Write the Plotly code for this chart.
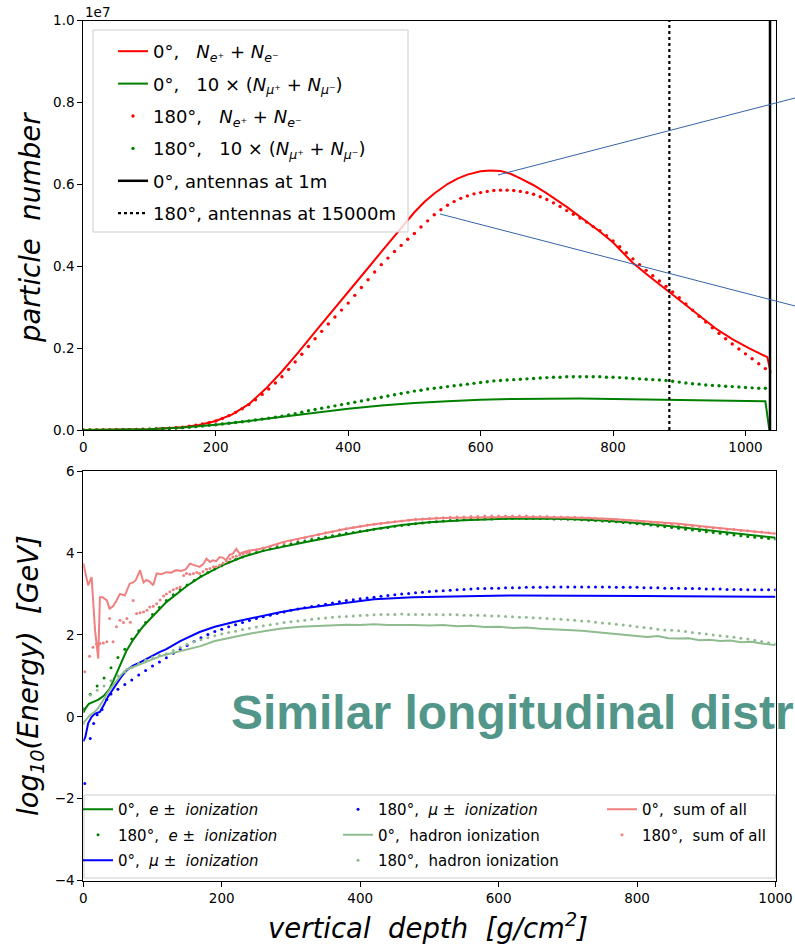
import plotly.graph_objects as go

# ================= TOP PANEL : particle numbers (values in units of 1e7) =================
DEPTH_TOP_DOTS = list(range(0, 1031, 10))

NE_0_DEPTH = [0, 50, 100, 150, 175, 200, 225, 250, 275, 300, 325, 350, 375, 400, 425,
              450, 475, 500, 515, 530, 550, 565, 580, 600, 615, 630, 645, 660, 680, 700,
              730, 760, 780, 800, 830, 855, 880, 905, 930, 955, 980, 1005, 1033, 1038]
NE_0 = [0, 0.0005, 0.002, 0.007, 0.012, 0.022, 0.038, 0.063, 0.1, 0.143, 0.19, 0.24, 0.288, 0.337, 0.386,
        0.435, 0.484, 0.532, 0.557, 0.578, 0.601, 0.614, 0.624, 0.632, 0.634, 0.633, 0.626, 0.615, 0.598, 0.578,
        0.545, 0.51, 0.485, 0.458, 0.408, 0.375, 0.343, 0.31, 0.278, 0.248, 0.222, 0.2, 0.178, 0.14]

NE_180 = [0, 0, 0, 0, 0, 0.0005, 0.0007, 0.001, 0.0013, 0.0017,
          0.002, 0.0027, 0.0035, 0.0045, 0.0055, 0.007, 0.009, 0.0115, 0.0145, 0.018,
          0.022, 0.028, 0.035, 0.043, 0.052, 0.062, 0.074, 0.087, 0.1, 0.115,
          0.13, 0.148, 0.166, 0.185, 0.204, 0.223, 0.241, 0.259, 0.276, 0.293,
          0.31, 0.329, 0.348, 0.367, 0.386, 0.404, 0.42, 0.436, 0.451, 0.466,
          0.48, 0.496, 0.511, 0.526, 0.538, 0.549, 0.558, 0.566, 0.572, 0.577,
          0.58, 0.583, 0.585, 0.586, 0.586, 0.585, 0.583, 0.58, 0.576, 0.57,
          0.563, 0.555, 0.546, 0.536, 0.527, 0.518, 0.508, 0.497, 0.487, 0.475,
          0.462, 0.448, 0.433, 0.418, 0.404, 0.39, 0.377, 0.364, 0.351, 0.337,
          0.323, 0.308, 0.293, 0.278, 0.264, 0.25, 0.236, 0.223, 0.21, 0.198,
          0.186, 0.174, 0.162, 0.15]

NMU_0_DEPTH = [0, 50, 100, 150, 200, 250, 300, 350, 400, 450, 500, 550, 600, 650, 700,
               750, 800, 850, 900, 950, 1000, 1030, 1036]
NMU_0 = [0, 0.0005, 0.002, 0.006, 0.013, 0.022, 0.032, 0.042, 0.052, 0.06, 0.066, 0.07, 0.074, 0.076, 0.077,
         0.077, 0.076, 0.075, 0.073, 0.072, 0.071, 0.07, 0.0]

NMU_180 = [0, 0, 0, 0, 0.0002, 0.0003, 0.0005, 0.0007, 0.001, 0.0015,
           0.002, 0.0025, 0.003, 0.0037, 0.0045, 0.0055, 0.0068, 0.0082, 0.0097, 0.0113,
           0.013, 0.0147, 0.0164, 0.0182, 0.02, 0.022, 0.0243, 0.0266, 0.029, 0.0315,
           0.034, 0.037, 0.04, 0.0435, 0.047, 0.05, 0.053, 0.056, 0.059, 0.062,
           0.065, 0.068, 0.071, 0.074, 0.077, 0.08, 0.083, 0.086, 0.089, 0.092,
           0.095, 0.097, 0.1, 0.102, 0.104, 0.106, 0.108, 0.11, 0.112, 0.114,
           0.116, 0.118, 0.12, 0.121, 0.122, 0.123, 0.124, 0.125, 0.126, 0.127,
           0.128, 0.129, 0.129, 0.13, 0.13, 0.13, 0.13, 0.13, 0.13, 0.129,
           0.129, 0.128, 0.127, 0.126, 0.125, 0.124, 0.123, 0.122, 0.121, 0.119,
           0.117, 0.115, 0.113, 0.112, 0.11, 0.109, 0.108, 0.107, 0.106, 0.105,
           0.104, 0.103, 0.102, 0.102]

ANTENNA_0_DEPTH = 1037      # 0 deg, antennas at 1 m
ANTENNA_180_DEPTH = 885     # 180 deg, antennas at 15000 m
ANTENNA_Y = [0, 1.0]

TOP_YTICKS = [0, 0.2, 0.4, 0.6, 0.8, 1.0]
TOP_YTICKTEXT = ["0.0", "0.2", "0.4", "0.6", "0.8", "1.0"]
XTICKS = [0, 200, 400, 600, 800, 1000]

# ================= BOTTOM PANEL : log10(Energy) =================
DEPTH_BOT_DOTS = list(range(0, 1001, 10))

E_ION_0_DEPTH = [0, 3, 8, 15, 22, 30, 38, 46, 54, 62, 72, 86, 100, 120, 150, 170, 200, 230,
                 260, 290, 320, 350, 380, 420, 460, 500, 550, 600, 650, 700, 750, 800, 850,
                 900, 950, 1000]
E_ION_0 = [0.1, 0.2, 0.32, 0.38, 0.42, 0.52, 0.68, 0.98, 1.3, 1.6, 1.88, 2.2, 2.45, 2.8, 3.2, 3.42, 3.69, 3.9,
           4.05, 4.16, 4.26, 4.36, 4.46, 4.58, 4.68, 4.75, 4.8, 4.83, 4.84, 4.83, 4.79, 4.73, 4.65,
           4.56, 4.46, 4.37]

E_ION_180 = [0.2, 0.55, 0.75, 0.95, 1.2, 1.45, 1.65, 1.9, 2.1, 2.3,
             2.5, 2.67, 2.84, 2.98, 3.1, 3.22, 3.33, 3.43, 3.52, 3.61,
             3.69, 3.77, 3.84, 3.9, 3.96, 4.01, 4.06, 4.1, 4.14, 4.18,
             4.22, 4.26, 4.29, 4.33, 4.36, 4.39, 4.42, 4.45, 4.48, 4.5,
             4.53, 4.55, 4.58, 4.6, 4.62, 4.65, 4.67, 4.69, 4.71, 4.73,
             4.75, 4.76, 4.78, 4.79, 4.8, 4.81, 4.82, 4.82, 4.83, 4.83,
             4.84, 4.84, 4.84, 4.85, 4.84, 4.84, 4.84, 4.84, 4.83, 4.83,
             4.82, 4.82, 4.81, 4.8, 4.79, 4.78, 4.77, 4.76, 4.74, 4.73,
             4.71, 4.7, 4.68, 4.66, 4.64, 4.62, 4.6, 4.58, 4.56, 4.54,
             4.52, 4.5, 4.48, 4.46, 4.44, 4.42, 4.4, 4.38, 4.37, 4.35,
             4.34]

MU_ION_0_DEPTH = [0, 3, 7, 12, 17, 24, 30, 36, 42, 48, 55, 63, 72, 82, 95, 110, 120, 140, 168, 190,
                  216, 240, 265, 284, 313, 350, 380, 420, 476, 520, 572, 620, 669, 720, 765, 810,
                  861, 900, 950, 1000]
MU_ION_0 = [-0.6, -0.49, -0.16, 0.0, 0.08, 0.12, 0.3, 0.5, 0.65, 0.81, 0.98, 1.14, 1.25, 1.33, 1.45, 1.58, 1.65, 1.85, 2.07, 2.2,
            2.31, 2.4, 2.48, 2.55, 2.64, 2.72, 2.8, 2.87, 2.92, 2.94, 2.95, 2.96, 2.96, 2.96, 2.96, 2.95,
            2.94, 2.94, 2.93, 2.93]

MU_ION_180_DEPTH = [2, 10, 15, 20, 27, 34, 40] + list(range(50, 1001, 10))
MU_ION_180 = [-1.63, -0.53, -0.16, 0.05, 0.18, 0.42, 0.56,
              0.67, 0.79, 0.9, 1.02, 1.13,
              1.24, 1.34, 1.44, 1.55, 1.65, 1.74, 1.84, 1.93, 2.01, 2.08,
              2.14, 2.2, 2.25, 2.3, 2.35, 2.4, 2.44, 2.48, 2.52, 2.56,
              2.6, 2.63, 2.66, 2.69, 2.72, 2.75, 2.78, 2.81, 2.84, 2.86,
              2.88, 2.9, 2.92, 2.94, 2.96, 2.98, 3.0, 3.01, 3.03, 3.04,
              3.06, 3.07, 3.08, 3.09, 3.1, 3.11, 3.12, 3.13, 3.13, 3.14,
              3.14, 3.15, 3.15, 3.15, 3.16, 3.16, 3.16, 3.16, 3.17, 3.17,
              3.17, 3.17, 3.17, 3.17, 3.17, 3.17, 3.17, 3.16, 3.16, 3.16,
              3.16, 3.15, 3.15, 3.15, 3.14, 3.14, 3.14, 3.13, 3.13, 3.13,
              3.12, 3.12, 3.12, 3.11, 3.11, 3.11, 3.1, 3.1, 3.1, 3.1,
              3.1]

HAD_ION_0_DEPTH = [0, 5, 10, 15, 20, 25, 30, 35, 40, 48, 55, 62, 72, 85, 96, 110, 120, 140, 168, 190,
                   216, 240, 265, 284, 313, 340, 360, 380, 400, 420, 440, 460, 476, 500, 520, 540,
                   560, 580, 600, 620, 640, 660, 680, 700, 720, 740, 760, 780, 800, 815, 830, 845,
                   860, 875, 890, 905, 920, 935, 950, 965, 980, 1000]
HAD_ION_0 = [-0.15, -0.05, 0.05, 0.1, 0.18, 0.3, 0.45, 0.58, 0.7, 0.88, 1.03, 1.15, 1.22, 1.3, 1.38, 1.47, 1.52, 1.6, 1.72, 1.85,
             1.95, 2.03, 2.1, 2.15, 2.2, 2.22, 2.24, 2.25, 2.24, 2.26, 2.24, 2.25, 2.24, 2.23, 2.24, 2.21,
             2.22, 2.19, 2.2, 2.17, 2.18, 2.15, 2.14, 2.12, 2.1, 2.07, 2.04, 2.01, 1.99, 1.95, 1.97, 1.92,
             1.91, 1.92, 1.87, 1.88, 1.85, 1.86, 1.82, 1.83, 1.79, 1.75]

HAD_ION_180 = [-0.16, 0.53, 0.65, 0.75, 0.88, 1.0, 1.1, 1.2, 1.3, 1.38,
               1.45, 1.5, 1.54, 1.62, 1.7, 1.77, 1.83, 1.88, 1.93, 1.98,
               2.02, 2.06, 2.09, 2.13, 2.16, 2.19, 2.22, 2.25, 2.27, 2.3,
               2.32, 2.34, 2.36, 2.38, 2.4, 2.41, 2.43, 2.44, 2.45, 2.46,
               2.47, 2.48, 2.49, 2.5, 2.5, 2.5, 2.51, 2.5, 2.5, 2.5,
               2.5, 2.5, 2.49, 2.5, 2.49, 2.48, 2.48, 2.48, 2.47, 2.46,
               2.46, 2.45, 2.44, 2.43, 2.43, 2.42, 2.41, 2.4, 2.39, 2.38,
               2.37, 2.36, 2.34, 2.33, 2.31, 2.29, 2.28, 2.26, 2.24, 2.22,
               2.2, 2.18, 2.16, 2.14, 2.12, 2.11, 2.1, 2.08, 2.06, 2.04,
               2.02, 2.0, 1.98, 1.96, 1.94, 1.92, 1.9, 1.87, 1.84, 1.81,
               1.78]

SUM_0_DEPTH = [0, 3, 7, 12, 17, 21.6, 24, 28, 34, 38, 43, 48, 53, 60, 67, 72, 76, 82, 87, 91,
               96, 101, 106, 113, 120, 127, 134, 141, 148, 154, 161, 168, 173, 178, 183, 187, 192,
               197, 202, 206, 211, 216, 221, 226, 233, 240, 250, 265, 289, 313, 340, 380, 420,
               476, 520, 572, 620, 669, 720, 765, 810, 861, 900, 950, 1000]
SUM_0 = [3.75, 3.5, 3.21, 3.41, 2.11, 1.42, 2.92, 2.92, 2.84, 2.64, 2.7, 2.84, 3.0, 2.96, 3.25, 3.28, 3.34, 3.58, 3.28, 3.34,
         3.3, 3.21, 3.5, 3.48, 3.53, 3.52, 3.58, 3.56, 3.6, 3.74, 3.7, 3.66, 3.72, 3.86, 3.78, 3.82, 3.8,
         3.9, 3.88, 3.82, 3.95, 3.98, 4.1, 3.98, 4.03, 4.06, 4.08, 4.14, 4.27, 4.35, 4.44, 4.59, 4.7,
         4.81, 4.85, 4.87, 4.88, 4.87, 4.86, 4.83, 4.78, 4.71, 4.64, 4.56, 4.47]

SUM_180_DEPTH = [2, 9, 14, 19, 24, 29, 34, 38, 43, 48, 53, 58, 63, 68, 72, 77, 82, 87, 92, 96,
                 101, 106, 111, 116, 120, 125, 130, 135, 140, 145, 149, 154, 159, 164, 168, 173,
                 178, 183, 188, 192, 197, 202, 207, 212, 216, 221, 226, 231, 236, 240] + list(range(250, 1001, 10))
SUM_180 = [1.1, 1.48, 1.7, 1.78, 1.79, 1.8, 1.83, 2.4, 1.83, 2.2, 2.36, 2.3, 2.4, 2.31, 2.84, 2.52, 2.54, 2.56, 2.6, 2.68,
           2.7, 2.76, 2.85, 2.95, 3.0, 3.05, 3.1, 3.14, 3.17, 3.45, 3.5, 3.48, 3.5, 3.52, 3.5, 3.55,
           3.6, 3.62, 3.66, 3.66, 3.7, 3.75, 3.8, 3.85, 3.9, 3.92, 3.95, 3.98, 4.0, 4.02,
           4.08, 4.12, 4.16, 4.2, 4.24, 4.29, 4.33, 4.37, 4.41, 4.45,
           4.49, 4.52, 4.56, 4.59, 4.62, 4.65, 4.68, 4.7, 4.72, 4.74,
           4.76, 4.78, 4.8, 4.82, 4.83, 4.84, 4.85, 4.86, 4.87, 4.88,
           4.88, 4.89, 4.89, 4.9, 4.9, 4.9, 4.9, 4.9, 4.9, 4.9,
           4.89, 4.89, 4.89, 4.88, 4.88, 4.87, 4.87, 4.86, 4.85, 4.84,
           4.83, 4.82, 4.81, 4.8, 4.79, 4.78, 4.76, 4.75, 4.73, 4.72,
           4.7, 4.69, 4.67, 4.66, 4.64, 4.63, 4.61, 4.6, 4.58, 4.57,
           4.55, 4.54, 4.52, 4.51, 4.49, 4.48]

BOT_YTICKS = [-4, -2, 0, 2, 4, 6]

# ================= styling =================
W, H = 795, 945
RED, GREEN, BLUE = "#ff0000", "#008000", "#0000ff"
LGREEN, PINK = "#8fbc8f", "#f08080"
TEAL = "#52968a"
FONT = "DejaVu Sans"
NB = "\u00a0"
TITLE_SIZE = 27.5


def px(x):
    return x / W


def py(y):
    return 1 - y / H


fig = go.Figure()


def add_line(x, y, color, name, legend, xa, ya, rank, width=2, dash="solid"):
    fig.add_trace(go.Scatter(x=x, y=y, mode="lines", name=name, legend=legend,
                             legendgroup=name, legendrank=rank,
                             line=dict(color=color, width=width, dash=dash),
                             xaxis=xa, yaxis=ya, hoverinfo="skip"))


def add_dots(x, y, color, name, legend, xa, ya, rank, size=3.2, opacity=1.0):
    fig.add_trace(go.Scatter(x=x, y=y, mode="markers", name=name, legend=legend,
                             legendgroup=name, legendrank=rank, opacity=opacity,
                             marker=dict(color=color, size=size, line=dict(width=0)),
                             xaxis=xa, yaxis=ya, hoverinfo="skip"))


Ne = "<i>N</i><sub><i>e</i>⁺</sub> + <i>N</i><sub><i>e</i>⁻</sub>"
Nmu = "10 × (<i>N</i><sub><i>μ</i>⁺</sub> + <i>N</i><sub><i>μ</i>⁻</sub>)"

# top panel traces
add_line(NE_0_DEPTH, NE_0, RED, f"0°,{NB*3}{Ne}", "legend", "x", "y", 1)
add_line(NMU_0_DEPTH, NMU_0, GREEN, f"0°,{NB*3}{Nmu}", "legend", "x", "y", 2)
add_dots(DEPTH_TOP_DOTS, NE_180, RED, f"180°,{NB*3}{Ne}", "legend", "x", "y", 3, size=3.4)
add_dots(DEPTH_TOP_DOTS, NMU_180, GREEN, f"180°,{NB*3}{Nmu}", "legend", "x", "y", 4, size=3.4)
add_line([ANTENNA_0_DEPTH, ANTENNA_0_DEPTH], ANTENNA_Y, "black", "0°, antennas at 1m", "legend", "x", "y", 5, width=2.5)
add_line([ANTENNA_180_DEPTH, ANTENNA_180_DEPTH], ANTENNA_Y, "black", "180°, antennas at 15000m", "legend", "x", "y", 6,
         width=2.2, dash="dot")

# bottom panel traces
ion = "<i>ionization</i>"
add_line(E_ION_0_DEPTH, E_ION_0, GREEN, f"0°,{NB*2}<i>e</i> ±{NB*2}{ion}", "legend2", "x2", "y2", 1)
add_dots(DEPTH_BOT_DOTS, E_ION_180, GREEN, f"180°,{NB*2}<i>e</i> ±{NB*2}{ion}", "legend2", "x2", "y2", 2, size=3)
add_line(MU_ION_0_DEPTH, MU_ION_0, BLUE, f"0°,{NB*2}<i>μ</i> ±{NB*2}{ion}", "legend2", "x2", "y2", 3)
add_dots(MU_ION_180_DEPTH, MU_ION_180, BLUE, f"180°,{NB*2}<i>μ</i> ±{NB*2}{ion}", "legend3", "x2", "y2", 4, size=3)
add_line(HAD_ION_0_DEPTH, HAD_ION_0, LGREEN, f"0°,{NB*2}hadron ionization", "legend3", "x2", "y2", 5)
add_dots(DEPTH_BOT_DOTS, HAD_ION_180, LGREEN, f"180°,{NB*2}hadron ionization", "legend3", "x2", "y2", 6, size=3)
add_line(SUM_0_DEPTH, SUM_0, PINK, f"0°,{NB*2}sum of all", "legend4", "x2", "y2", 7)
add_dots(SUM_180_DEPTH, SUM_180, PINK, f"180°,{NB*2}sum of all", "legend4", "x2", "y2", 8, size=3)

axis_common = dict(showline=True, mirror=True, linecolor="black", linewidth=1,
                   ticks="outside", ticklen=5, tickcolor="black", tickwidth=1,
                   showgrid=False, zeroline=False, automargin=False,
                   tickfont=dict(family=FONT, size=13.5, color="black"))

X_DOM = [px(83.3), px(775.5)]
bot_legend = dict(yanchor="top", bgcolor="rgba(0,0,0,0)", borderwidth=0,
                  font=dict(family=FONT, size=15, color="black"),
                  traceorder="grouped", tracegroupgap=3, itemwidth=30)
fig.update_layout(
    width=W, height=H, margin=dict(l=0, r=0, t=0, b=0),
    paper_bgcolor="white", plot_bgcolor="white",
    font=dict(family=FONT, color="black"),
    xaxis=dict(domain=X_DOM, range=[0, 1045.3], tickvals=XTICKS, anchor="y", **axis_common),
    yaxis=dict(domain=[py(430), py(20.7)], range=[0, 1.0], tickvals=TOP_YTICKS,
               ticktext=TOP_YTICKTEXT, anchor="x", **axis_common),
    xaxis2=dict(domain=X_DOM, range=[0, 1000], tickvals=XTICKS, anchor="y2", **axis_common),
    yaxis2=dict(domain=[py(880.7), py(471)], range=[-4, 6], tickvals=BOT_YTICKS, anchor="x2",
                **axis_common),
    legend=dict(x=px(113), y=py(33), xanchor="left", yanchor="top", bgcolor="rgba(0,0,0,0)",
                borderwidth=0, font=dict(family=FONT, size=18, color="black"),
                traceorder="grouped", tracegroupgap=6, itemwidth=30),
    legend2=dict(x=px(78), y=py(793), xanchor="left", **bot_legend),
    legend3=dict(x=px(338), y=py(793), xanchor="left", **bot_legend),
    legend4=dict(x=px(602), y=py(793), xanchor="left", **bot_legend),
)

# legend frames (matplotlib style)
fig.add_shape(type="rect", xref="paper", yref="paper", x0=px(93), x1=px(408), y0=py(232), y1=py(30),
              line=dict(color="#cccccc", width=1), fillcolor="rgba(255,255,255,0.8)", layer="above")
fig.add_shape(type="rect", xref="paper", yref="paper", x0=px(84), x1=px(775.5), y0=py(878), y1=py(795),
              line=dict(color="#cccccc", width=1), fillcolor="rgba(255,255,255,0.8)", layer="above")

# zoom connector lines (slide decoration)
for (x0, y0, x1, y1) in [(498, 175, 795, 98), (440, 214, 795, 306)]:
    fig.add_shape(type="line", xref="paper", yref="paper", x0=px(x0), y0=py(y0), x1=px(x1), y1=py(y1),
                  line=dict(color="#3563a9", width=1), layer="above")

# texts
fig.add_annotation(text="1e7", x=px(83), y=py(12), xref="paper", yref="paper", xanchor="left",
                   yanchor="middle", showarrow=False, font=dict(family=FONT, size=13.5, color="black"))
fig.add_annotation(text=f"<i>particle{NB*2}number</i>", x=px(30), y=py(228), xref="paper", yref="paper",
                   textangle=-90, showarrow=False, xanchor="center", yanchor="middle",
                   font=dict(family=FONT, size=TITLE_SIZE, color="black"))
fig.add_annotation(text=f"<i>log<sub>10</sub>(Energy){NB*2}[GeV]</i>", x=px(30), y=py(676), xref="paper",
                   yref="paper", textangle=-90, showarrow=False, xanchor="center", yanchor="middle",
                   font=dict(family=FONT, size=TITLE_SIZE, color="black"))
fig.add_annotation(text=f"<i>vertical{NB*2}depth{NB*2}[g/cm<sup>2</sup>]</i>", x=px(428), y=py(926),
                   xref="paper", yref="paper", showarrow=False, xanchor="center", yanchor="middle",
                   font=dict(family=FONT, size=TITLE_SIZE, color="black"))
fig.add_annotation(text="<b>Similar longitudinal distr</b>", x=px(229), y=py(712), xref="paper", yref="paper",
                   showarrow=False, xanchor="left", yanchor="middle",
                   font=dict(family="Liberation Sans", size=48, color=TEAL))

fig.write_html("out.html")
